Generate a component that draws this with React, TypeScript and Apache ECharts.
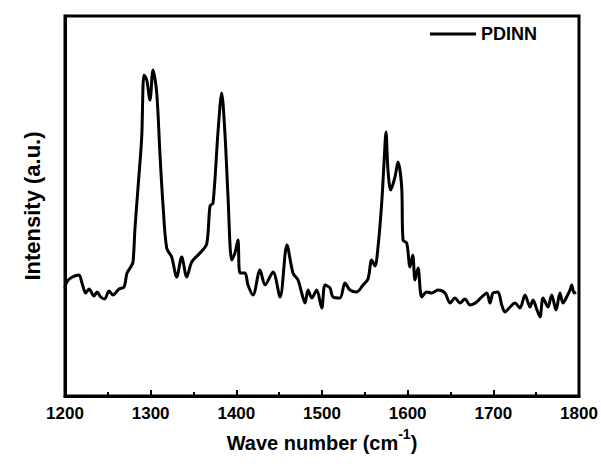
import React, { useEffect, useRef } from "react";
import * as echarts from "echarts";

const seriesName = "PDINN";
const xTitle = "Wave number (cm";
const xTitleSup = "-1";
const yTitle = "Intensity (a.u.)";

const wavenumbers = [
  1200, 1202, 1206.7, 1216.3, 1219.8, 1224.2, 1228, 1233.9, 1237.4, 1241.7, 1246.3,
  1251.4, 1256, 1263, 1268.9, 1272.4, 1276.7, 1279.4, 1281.7, 1285.2, 1289.5,
  1292.2, 1295.4, 1299.2, 1302.7, 1307, 1310.9, 1314.4, 1318.7, 1324.5, 1330.4,
  1336.2, 1342.1, 1347.9, 1357.6, 1365.4, 1369.3, 1372.8, 1378.6, 1382.9, 1386.8,
  1390.3, 1394.6, 1398.4, 1401.9, 1404.3, 1410.1, 1413.6, 1419.5, 1427.6, 1433.5,
  1442.8, 1451, 1459.1, 1466.1, 1472, 1476.3, 1480.2, 1483.7, 1488, 1493.8,
  1499.7, 1503.5, 1509.3, 1512.8, 1521, 1526.8, 1532.7, 1540.5, 1547.9, 1553.7,
  1558, 1561.9, 1565.4, 1569.7, 1572.4, 1574.7, 1577, 1580.2, 1585.2, 1588.7,
  1593, 1594.6, 1598.9, 1602.7, 1605.9, 1608.6, 1612.1, 1616.4, 1622.2, 1628,
  1635.4, 1643.6, 1649.4, 1655.2, 1661.1, 1666.9, 1672.8, 1680.6, 1686.4, 1692.3,
  1696.1, 1699.6, 1705.4, 1709.8, 1713.6, 1719.5, 1725.3, 1731.1, 1737, 1742.8,
  1746.3, 1751, 1754.5, 1758, 1763.8, 1768.1, 1773.2, 1777.8, 1781.3, 1785.6,
  1789.5, 1791.5, 1794.2, 1796.5,
];

const intensities = [
  108, 114, 118, 121, 113, 103, 107, 100, 104, 99, 97,
  105, 101, 107, 109, 123, 129, 134, 168, 208, 258,
  321, 316, 296, 326, 304, 241, 191, 148, 139, 119,
  139, 119, 134, 143, 152, 190, 193, 264, 303, 261,
  199, 136, 143, 156, 123, 123, 111, 101, 126, 111,
  124, 99, 151, 123, 116, 103, 93, 106, 98, 106,
  88, 111, 108, 99, 98, 113, 106, 104, 111, 117,
  136, 130, 149, 193, 233, 264, 226, 206, 219, 234,
  209, 156, 153, 129, 141, 116, 128, 99, 104, 103,
  106, 103, 93, 98, 93, 97, 91, 94, 99, 103,
  93, 103, 104, 91, 84, 89, 93, 88, 101, 89,
  96, 86, 79, 98, 89, 101, 86, 103, 93, 99,
  106, 111, 103, 104,
];

const FONT = "'Liberation Sans', Arial, sans-serif";

export default function App() {
  const ref = useRef<HTMLDivElement>(null);
  useEffect(() => {
    if (!ref.current) return;
    const chart = echarts.init(ref.current, undefined, { renderer: "svg" });
    const data = wavenumbers.map((w, i) => [w, intensities[i]]);
    chart.setOption({
      animation: false,
      backgroundColor: "#ffffff",
      grid: {
        left: 65,
        right: 22,
        top: 16,
        bottom: 72,
        show: true,
        borderColor: "#000",
        borderWidth: 3,
      },
      legend: {
        left: 425,
        top: 20,
        itemWidth: 46,
        itemHeight: 14,
        data: [{ name: seriesName, icon: "path://M0,6 L46,6 L46,9 L0,9 Z" }],
        textStyle: { fontFamily: FONT, fontSize: 18, fontWeight: "bold", color: "#000" },
      },
      xAxis: {
        type: "value",
        min: 1200,
        max: 1800,
        interval: 100,
        axisLine: { show: true, lineStyle: { color: "#000", width: 3 } },
        axisTick: { show: true, inside: true, length: 6, lineStyle: { color: "#000", width: 2 } },
        minorTick: { show: true, splitNumber: 2, length: 4, lineStyle: { color: "#000", width: 2 } },
        splitLine: { show: false },
        minorSplitLine: { show: false },
        axisLabel: {
          fontFamily: FONT,
          fontSize: 17,
          fontWeight: "bold",
          color: "#000",
          margin: 9,
          formatter: (v: number) => String(v),
        },
        name: `{a|${xTitle}}{s|${xTitleSup}}{a|)}`,
        nameLocation: "middle",
        nameGap: 27,
        nameTextStyle: {
          rich: {
            a: { fontFamily: FONT, fontSize: 20, fontWeight: "bold", color: "#000", lineHeight: 26, verticalAlign: "bottom" },
            s: { fontFamily: FONT, fontSize: 14, fontWeight: "bold", color: "#000", lineHeight: 26, verticalAlign: "top" },
          },
        },
      },
      yAxis: {
        type: "value",
        min: 0,
        max: 380,
        axisLine: { show: true, lineStyle: { color: "#000", width: 3 } },
        axisTick: { show: false },
        axisLabel: { show: false },
        splitLine: { show: false },
        name: yTitle,
        nameLocation: "middle",
        nameRotate: 90,
        nameGap: 22,
        nameTextStyle: { fontFamily: FONT, fontSize: 22, fontWeight: "bold", color: "#000" },
      },
      series: [
        {
          name: seriesName,
          type: "line",
          data,
          showSymbol: false,
          smooth: 0.3,
          lineStyle: { color: "#000", width: 3 },
          itemStyle: { color: "#000" },
        },
      ],
    });
    return () => chart.dispose();
  }, []);
  return (
    <div
      ref={ref}
      style={{ position: "fixed", left: 0, top: 0, width: 601, height: 468, background: "#fff" }}
    />
  );
}
